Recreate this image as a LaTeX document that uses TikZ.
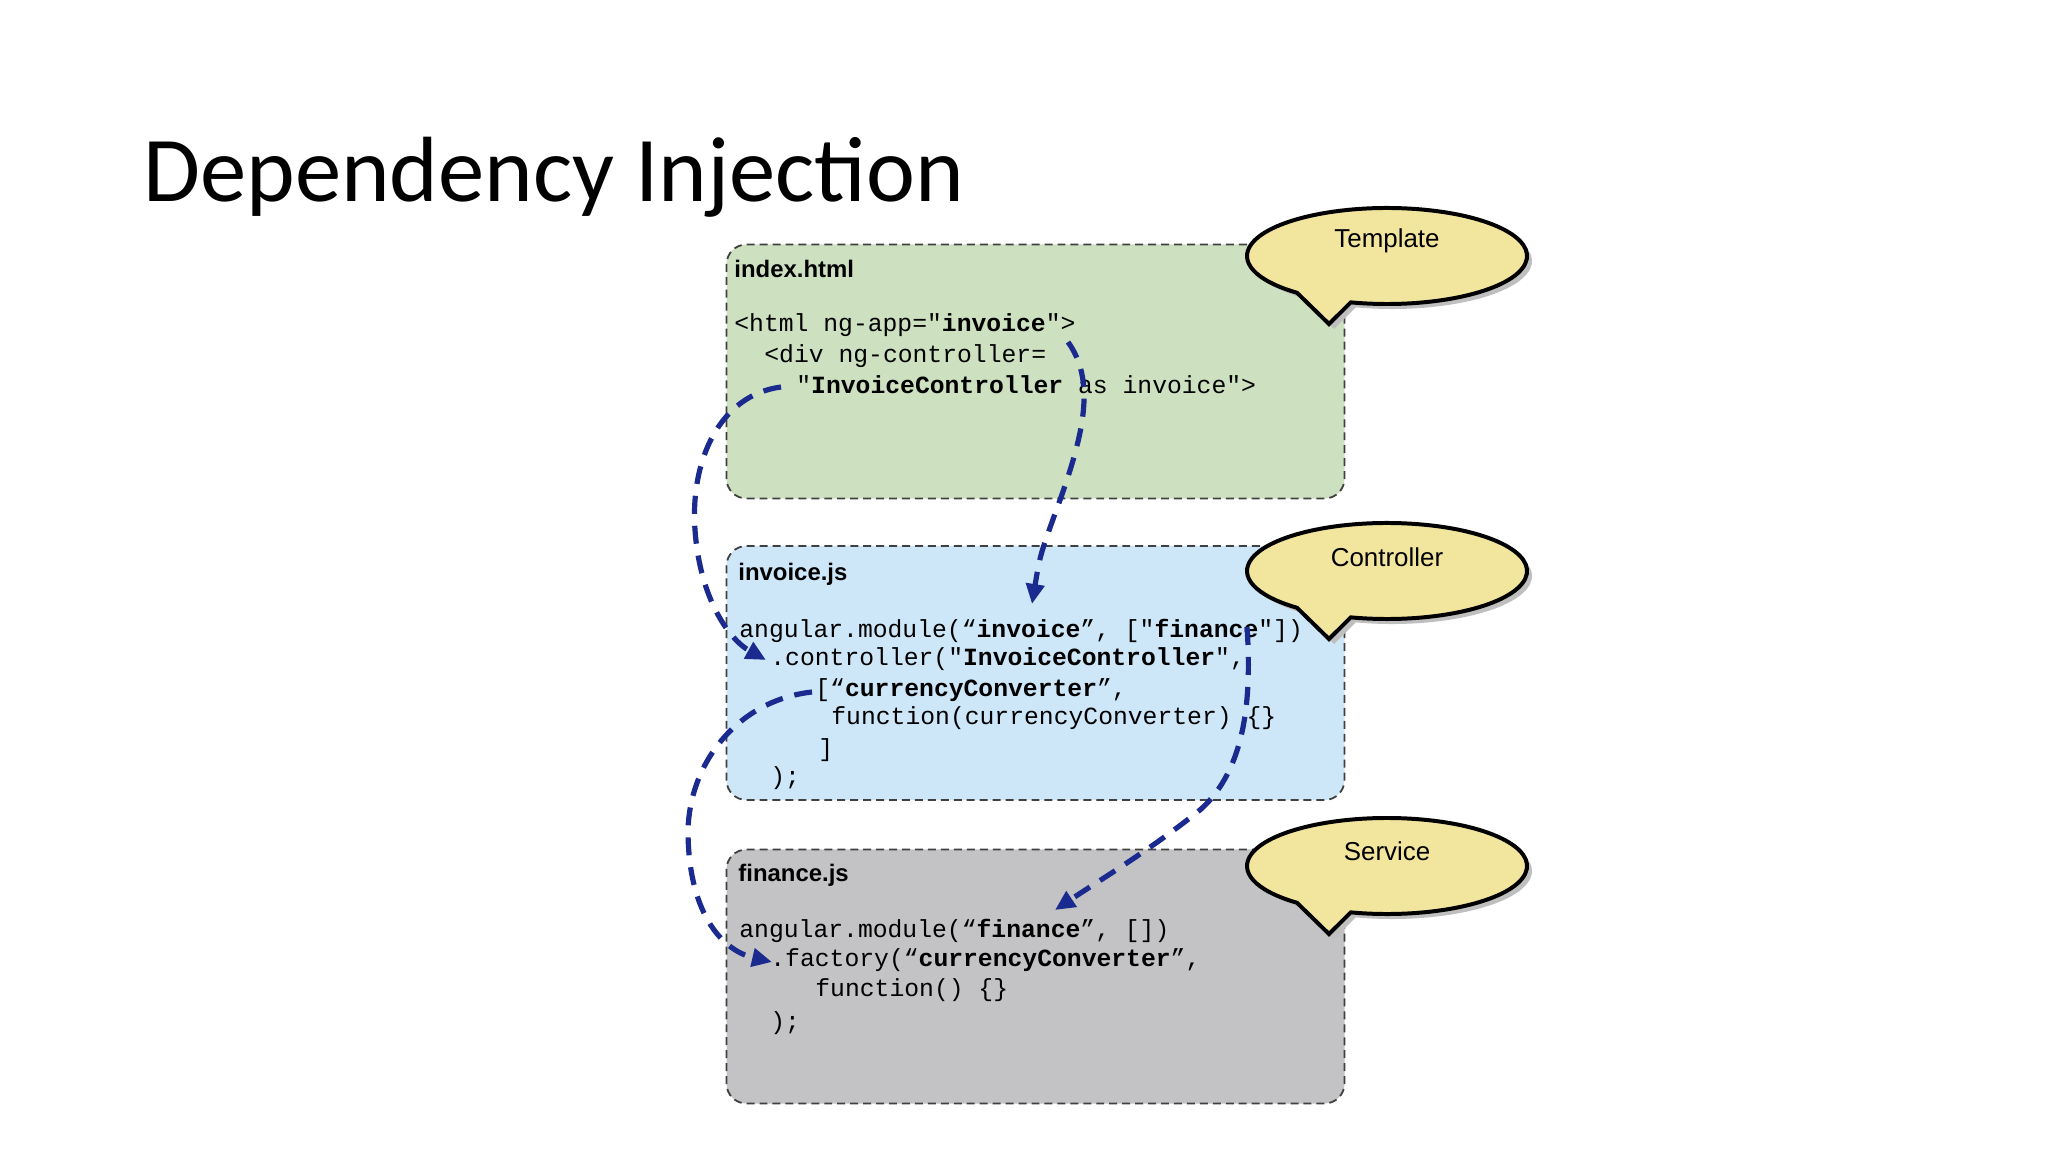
\documentclass[tikz,border=0pt]{standalone}
\usepackage{fontspec}
\setmainfont{Carlito}
\newfontfamily\lab{Liberation Sans}
\newfontfamily\code{Liberation Mono}
\usetikzlibrary{arrows.meta}
\definecolor{gfill}{HTML}{CDE1C1}
\definecolor{bfill}{HTML}{CDE7F9}
\definecolor{sfill}{HTML}{C3C2C4}
\definecolor{bub}{HTML}{F2E59E}
\definecolor{navy}{HTML}{1B2A8E}
\newcommand\speechbubble[3]{% cx cy text
  \fill[black!25,shift={(5,5)}] (#1,#2) ++(105:140 and 48) arc[start angle=105,end angle=-230,x radius=140,y radius=48] -- (#1-58,#2+68) -- cycle;
  \filldraw[fill=bub,draw=black,line width=2pt] (#1,#2) ++(105:140 and 48) arc[start angle=105,end angle=-230,x radius=140,y radius=48] -- (#1-58,#2+68) -- cycle;}
\begin{document}
\begin{tikzpicture}[x=0.5bp,y=-0.5bp,
  box/.style={draw=black!75,dashed,line width=0.9pt,dash pattern=on 4pt off 2.5pt,rounded corners=10bp,inner sep=0,minimum width=309bp,minimum height=127bp},
  fname/.style={font=\lab\bfseries\fontsize{12}{14}\selectfont,anchor=base west,inner sep=0},
  cl/.style={font=\code\fontsize{12.4}{15}\selectfont,anchor=base west,inner sep=0},
  btxt/.style={font=\lab\fontsize{13}{15}\selectfont,inner sep=0},
  dep/.style={navy,line width=2.6bp,dash pattern=on 9bp off 6bp,-{Triangle[length=10bp,width=9bp]}}]
\useasboundingbox[fill=white] (0,0) rectangle (2048,1152);
\node[anchor=base west,inner sep=0,font=\fontsize{46.5}{56}\selectfont] (title) at (143,202) {Dependency Injection};
% boxes
\node[box,fill=gfill] (tpl) at (1035.5,371.5) {};
\node[box,fill=bfill] (ctl) at (1035.5,673) {};
\node[box,fill=sfill] (svc) at (1035.5,976.5) {};
% bubbles
\speechbubble{1387}{256}{Template}
\node[btxt] (bt) at (1387,241) {Template};
\speechbubble{1387}{571}{Controller}
\node[btxt] (bc) at (1387,557) {Controller};
\speechbubble{1387}{866}{Service}
\node[btxt] (bs) at (1387,851) {Service};
% index.html
\node[fname] (f1) at (734,278) {index.html};
\node[cl] (h1) at (734,332) {<html ng-app="\textbf{invoice}">};
\node[cl] (h2) at (764,363) {<div ng-controller=};
\node[cl] (h3) at (796,394) {"\textbf{InvoiceController} as invoice">};
% invoice.js
\node[fname] (f2) at (738,581) {invoice.js};
\node[cl] (c1) at (739,637) {angular.module(“\textbf{invoice}”, ["\textbf{finance}"])};
\node[cl] (c2) at (770,666) {.controller("\textbf{InvoiceController}",};
\node[cl] (c3) at (815,696) {[“\textbf{currencyConverter}”,};
\node[cl] (c4) at (831,724) {function(currencyConverter) \{\}};
\node[cl] (c5) at (818,756) {]};
\node[cl] (c6) at (770,784) {);};
% finance.js
\node[fname] (f3) at (738,881) {finance.js};
\node[cl] (s1) at (739,937) {angular.module(“\textbf{finance}”, [])};
\node[cl] (s2) at (770,966) {.factory(“\textbf{currencyConverter}”,};
\node[cl] (s3) at (815,996) {function() \{\}};
\node[cl] (s4) at (770,1029) {);};
% arrow end points
\coordinate (a1s) at (1068,342);
\coordinate (a1e) at (1032,604);
\coordinate (a2s) at (781,387);
\coordinate (a2e) at (766,660);
\coordinate (a3s) at (812,692);
\coordinate (a3e) at (772,962);
\coordinate (a4s) at (1247,627);
\coordinate (a4e) at (1055,910);
\draw[dep] (a1s) .. controls (1095,380) and (1085,430) .. (1060,500) .. controls (1040,555) .. (a1e);
\draw[dep] (a2s) .. controls (720,395) and (690,460) .. (695,530) .. controls (700,600) and (730,640) .. (a2e);
\draw[dep] (a3s) .. controls (740,700) and (690,760) .. (688,830) .. controls (688,910) and (720,950) .. (a3e);
\draw[dep] (a4s) .. controls (1252,700) and (1245,770) .. (1200,810) .. controls (1150,850) and (1100,880) .. (a4e);
\end{tikzpicture}
\end{document}
